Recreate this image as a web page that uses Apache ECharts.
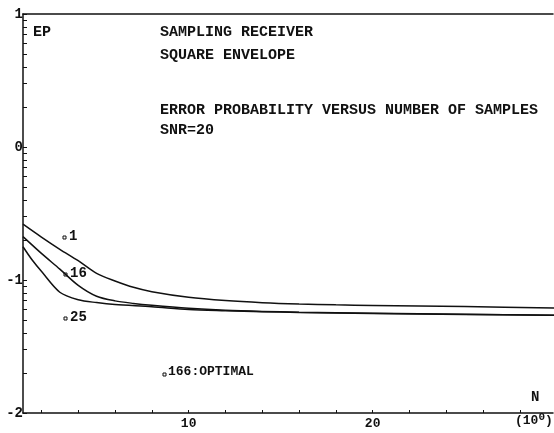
<!DOCTYPE html>
<html><head><meta charset="utf-8">
<script src="https://cdn.jsdelivr.net/npm/echarts@6/dist/echarts.min.js"></script>
<style>html,body{margin:0;padding:0;background:#fff}#c{width:554px;height:433px}</style>
</head><body><div id="c"></div>
<script>
// Data (N, log10 error probability)
const nSamples1  = [1, 2, 3, 4, 5, 6, 7, 8, 10, 12, 14, 16, 18, 20, 25, 30];
const curve1     = [-0.58, -0.677, -0.769, -0.855, -0.95, -1.007, -1.055, -1.088, -1.13, -1.155, -1.171, -1.181, -1.187, -1.191, -1.2, -1.21];
const nSamples16 = [1, 2, 3, 4, 5, 6, 7, 8, 10, 12, 14, 16, 20, 25, 30];
const curve16    = [-0.674, -0.80, -0.918, -1.04, -1.122, -1.157, -1.176, -1.19, -1.212, -1.227, -1.236, -1.242, -1.25, -1.258, -1.265];
const nSamples25 = [1, 1.5, 2, 3, 4, 5, 6, 8, 10, 12, 14, 16, 20, 25, 30];
const curve25    = [-0.75, -0.85, -0.935, -1.092, -1.148, -1.17, -1.185, -1.201, -1.222, -1.231, -1.238, -1.244, -1.252, -1.259, -1.266];
const xTickValues  = [2, 4, 6, 8, 10, 12, 14, 16, 18, 20, 22, 24, 26, 28];
const xLabelValues = [10, 20];
const yLabelValues = [-2, -1, 0, 1];
const yTickValues = [];
[-2, -1, 0].forEach(d => { for (let k = 1; k <= 9; k++) yTickValues.push(d + Math.log10(k)); });
yTickValues.push(1);

const FONT = 'Liberation Mono';
const zip = (xs, ys) => xs.map((x, i) => [x, ys[i]]);
const lineStyle = {color: '#111', width: 1.5};
const F = (size) => 'bold ' + size + 'px ' + FONT;

const chart = echarts.init(document.getElementById('c'));
chart.setOption({
  animation: false,
  backgroundColor: '#fff',
  grid: {left: 23, top: 14, right: 1, bottom: 20},
  xAxis: [{
    type: 'value', min: 1, max: 29.8,
    axisLine: {onZero: false, lineStyle: {color: '#111', width: 1.5}},
    axisTick: {inside: true, length: 3, customValues: xTickValues, lineStyle: {color: '#111'}},
    axisLabel: {customValues: xLabelValues, margin: 4, fontFamily: FONT, fontWeight: 'bold', fontSize: 13, color: '#111'},
    splitLine: {show: false}
  }, {
    type: 'value', min: 1, max: 29.8, position: 'top',
    axisLine: {show: true, onZero: false, lineStyle: {color: '#111', width: 1.5}},
    axisTick: {show: false}, axisLabel: {show: false}, splitLine: {show: false}
  }],
  yAxis: {
    type: 'value', min: -2, max: 1,
    axisLine: {show: true, onZero: false, lineStyle: {color: '#111', width: 1.5}},
    axisTick: {show: true, inside: true, length: 4, customValues: yTickValues, lineStyle: {color: '#111'}},
    axisLabel: {customValues: yLabelValues, margin: 0, fontFamily: FONT, fontWeight: 'bold', fontSize: 14, color: '#111'},
    splitLine: {show: false}
  },
  series: [
    {type: 'line', data: zip(nSamples1, curve1), smooth: 0.3, symbol: 'none', lineStyle, clip: true},
    {type: 'line', data: zip(nSamples16, curve16), smooth: 0.3, symbol: 'none', lineStyle, clip: true},
    {type: 'line', data: zip(nSamples25, curve25), smooth: 0.3, symbol: 'none', lineStyle, clip: true}
  ],
  graphic: [
    {type: 'text', left: 33, top: 25, style: {text: 'EP', fill: '#111', font: F(15)}},
    {type: 'text', left: 160, top: 25, style: {text: 'SAMPLING RECEIVER', fill: '#111', font: F(15)}},
    {type: 'text', left: 160, top: 48, style: {text: 'SQUARE ENVELOPE', fill: '#111', font: F(15)}},
    {type: 'text', left: 160, top: 103, style: {text: 'ERROR PROBABILITY VERSUS NUMBER OF SAMPLES', fill: '#111', font: F(15)}},
    {type: 'text', left: 160, top: 123, style: {text: 'SNR=20', fill: '#111', font: F(15)}},
    {type: 'rect', shape: {x: 63, y: 236, width: 3, height: 3}, style: {fill: 'none', stroke: '#111', lineWidth: 1}},
    {type: 'text', left: 69, top: 229, style: {text: '1', fill: '#111', font: F(14)}},
    {type: 'rect', shape: {x: 64, y: 273, width: 3, height: 3}, style: {fill: 'none', stroke: '#111', lineWidth: 1}},
    {type: 'text', left: 70, top: 266, style: {text: '16', fill: '#111', font: F(14)}},
    {type: 'rect', shape: {x: 64, y: 317, width: 3, height: 3}, style: {fill: 'none', stroke: '#111', lineWidth: 1}},
    {type: 'text', left: 70, top: 310, style: {text: '25', fill: '#111', font: F(14)}},
    {type: 'rect', shape: {x: 163, y: 373, width: 3, height: 3}, style: {fill: 'none', stroke: '#111', lineWidth: 1}},
    {type: 'text', left: 168, top: 365, style: {text: '166:OPTIMAL', fill: '#111', font: F(13)}},
    {type: 'text', left: 531, top: 390, style: {text: 'N', fill: '#111', font: F(14)}},
    {type: 'text', left: 515, top: 412, style: {
      rich: {b: {font: F(13), fill: '#111'}, s: {font: F(11), fill: '#111', verticalAlign: 'top', padding: [0, 0, 6, 0]}},
      text: '{b|(10}{s|0}{b|)}'
    }}
  ]
});
</script></body></html>
